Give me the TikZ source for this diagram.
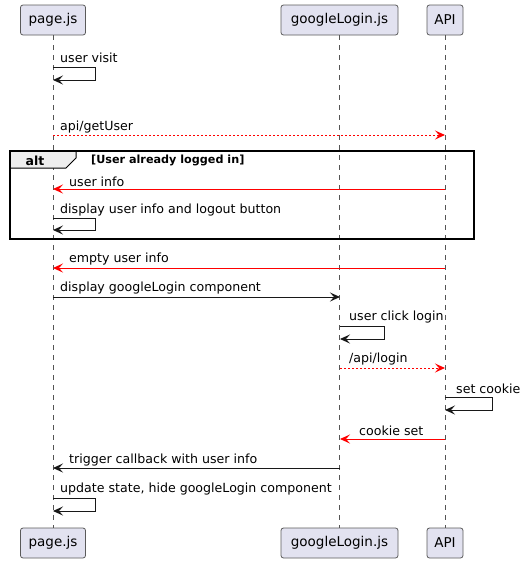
\documentclass[tikz,border=0pt]{standalone}
\usepackage{fontspec}
\setmainfont{DejaVu Sans}
\usetikzlibrary{arrows.meta}
\definecolor{partfill}{HTML}{E2E2F0}
\definecolor{partline}{HTML}{5A5A5A}
\definecolor{tabfill}{HTML}{EEEEEE}
\definecolor{msgred}{HTML}{FF0000}
\definecolor{lifegray}{HTML}{555555}
\definecolor{msgblack}{HTML}{181818}
\begin{document}
\begin{tikzpicture}[x=1pt,y=-1pt,
  part/.style={draw=partline,fill=partfill,rounded corners=2.5pt,line width=0.8pt,minimum height=30pt,inner sep=0pt,font=\fontsize{13.5}{15}\selectfont},
  life/.style={draw=lifegray,dash pattern=on 5pt off 5pt,line width=0.6pt},
  msg/.style={draw=msgblack,line width=1pt,-{Stealth[length=10pt,width=9pt,inset=4pt]}},
  redmsg/.style={msg,draw=msgred,color=msgred},
  dotmsg/.style={redmsg,dash pattern=on 2pt off 2pt},
  lbl/.style={anchor=west,inner sep=0pt,font=\fontsize{12.6}{14}\selectfont},
  guard/.style={anchor=west,inner sep=0pt,font=\fontsize{11.2}{12}\selectfont\bfseries}]
\useasboundingbox (0,0) rectangle (527,563);
% participants
\node[part,minimum width=65pt] (pageT) at (53,20) {page.js};
\node[part,minimum width=117pt] (gT) at (339.5,20) {googleLogin.js};
\node[part,minimum width=36pt] (apiT) at (445,20) {API};
\node[part,minimum width=65pt] (pageB) at (53,543) {page.js};
\node[part,minimum width=117pt] (gB) at (339.5,543) {googleLogin.js};
\node[part,minimum width=36pt] (apiB) at (445,543) {API};
\draw[life] (pageT.south) -- (pageB.north);
\draw[life] (gT.south) -- (gB.north);
\draw[life] (apiT.south) -- (apiB.north);
% alt frame
\draw[line width=1pt,fill=tabfill] (10,151) -- (76,151) -- (76,158) -- (66,168) -- (10,168) -- cycle;
\draw[line width=1.5pt] (10,151) rectangle (474,239);
\node[inner sep=0pt,font=\fontsize{12.5}{14}\selectfont\bfseries] (altl) at (35,160.5) {alt};
\node[guard] (grd) at (91,160.5) {[User already logged in]};
% coordinates
\coordinate (m1a) at (53,67); \coordinate (m1b) at (53,80);
\coordinate (m2a) at (53,135); \coordinate (m2b) at (445,135);
\coordinate (m3a) at (445,189); \coordinate (m3b) at (53,189);
\coordinate (m4a) at (53,218); \coordinate (m4b) at (53,230);
\coordinate (m5a) at (445,268); \coordinate (m5b) at (53,268);
\coordinate (m6a) at (53,297); \coordinate (m6b) at (340,297);
\coordinate (m7a) at (340,326); \coordinate (m7b) at (340,339);
\coordinate (m8a) at (340,368); \coordinate (m8b) at (445,368);
\coordinate (m9a) at (445,397); \coordinate (m9b) at (445,410);
\coordinate (m10a) at (445,439); \coordinate (m10b) at (340,439);
\coordinate (m11a) at (340,468); \coordinate (m11b) at (53,468);
\coordinate (m12a) at (53,498); \coordinate (m12b) at (53,511);
% messages
\draw[msg] (m1a) -- ++(42,0) |- (m1b);
\node[lbl] (t1) at (60,58) {user visit};
\draw[dotmsg] (m2a) -- (m2b);
\node[lbl] (t2) at (60,127.5) {api/getUser};
\draw[redmsg] (m3a) -- (m3b);
\node[lbl] (t3) at (69,181.5) {user info};
\draw[msg] (m4a) -- ++(42,0) |- (m4b);
\node[lbl] (t4) at (60,210.5) {display user info and logout button};
\draw[redmsg] (m5a) -- (m5b);
\node[lbl] (t5) at (69,259.5) {empty user info};
\draw[msg] (m6a) -- (m6b);
\node[lbl] (t6) at (60,288.5) {display googleLogin component};
\draw[msg] (m7a) -- ++(44,0) |- (m7b);
\node[lbl] (t7) at (349,317.5) {user click login};
\draw[dotmsg] (m8a) -- (m8b);
\node[lbl] (t8) at (349,359.5) {/api/login};
\draw[msg] (m9a) -- ++(47,0) |- (m9b);
\node[lbl] (t9) at (456,389) {set cookie};
\draw[redmsg] (m10a) -- (m10b);
\node[lbl] (t10) at (359,431) {cookie set};
\draw[msg] (m11a) -- (m11b);
\node[lbl] (t11) at (69,460) {trigger callback with user info};
\draw[msg] (m12a) -- ++(42,0) |- (m12b);
\node[lbl] (t12) at (60,489) {update state, hide googleLogin component};
\end{tikzpicture}
\end{document}
